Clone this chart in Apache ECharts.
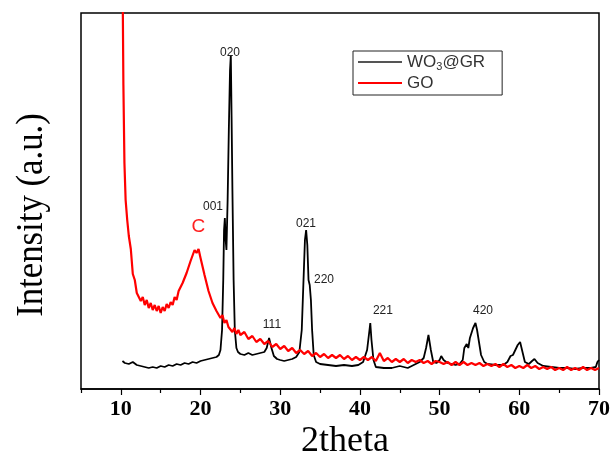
<!DOCTYPE html>
<html><head><meta charset="utf-8">
<script src="https://cdn.jsdelivr.net/npm/echarts@6/dist/echarts.min.js"></script>
<style>html,body{margin:0;padding:0;background:#fff}#c{width:613px;height:459px}</style>
</head><body><div id="c"></div>
<script>
const wo3Theta = [10.2,10.5,11,11.5,12,12.5,13,13.5,14,14.5,15,15.5,16,16.5,17,17.5,18,18.5,19,19.5,20,20.5,21,21.5,22,
22.3,22.5,22.7,22.85,22.95,23.05,23.15,23.25,23.4,23.55,23.7,23.8,23.9,24.0,24.15,24.3,24.5,24.7,
25,25.5,26,26.5,27,27.5,28,
28.3,28.6,28.9,29.2,29.6,
30,30.5,31,31.5,32,
32.4,32.7,32.9,33.1,33.25,33.4,33.55,33.7,33.85,34.0,34.2,34.5,
35,36,37,38,39,39.8,
40.4,40.9,41.2,41.3,41.45,41.7,
42,43,44,45,45.5,46,46.5,47,47.5,48,
48.3,48.6,48.9,49.2,49.6,
50,50.2,50.5,51,51.5,52,52.5,52.9,
53.1,53.4,53.6,53.8,54.2,54.5,54.7,54.9,55.2,55.6,
56,57,58,58.5,58.9,59.2,59.5,59.8,60.1,60.4,60.7,
61.2,61.6,61.9,62.3,
63,64,65,66,67,68,69,69.6,69.8,70];
const wo3Intensity = [28,26,25,27,24,23,22,21,22,21,23,22,24,23,25,24,26,25,27,26,28,29,30,31,32,
34,39,59,109,159,171,149,139,189,259,319,334,269,199,109,59,41,37,
35,34,36,34,35,36,37,
41,51,41,33,30,
29,28,29,30,32,
37,59,104,149,159,144,109,104,89,59,34,27,
25,24,23,24,23,24,
27,39,59,66,49,29,
22,21,21,23,22,21,23,25,27,31,
41,54,39,27,26,
29,33,29,26,25,24,25,29,
41,45,41,51,61,66,59,49,34,27,
25,24,24,27,33,34,39,44,47,37,27,
25,28,30,26,
23,22,21,21,20,21,21,22,27,29];

const goTheta = [10.2,10.25,10.32,10.45,10.6,10.8,
11,11.25,11.5,11.75,12,12.25,12.5,12.75,13,13.25,13.5,13.75,14,14.25,14.5,14.75,15,15.25,15.5,15.75,
16,16.25,16.5,16.75,17,17.25,17.5,17.75,18,18.25,18.5,18.75,19,19.25,19.5,19.75,20,20.25,20.5,20.75,
21,21.25,21.5,21.75,22,22.25,22.5,22.75,23,23.25,23.5,23.75,24,24.25,24.5,24.75,25,
25.5,26,26.5,27,27.5,28,28.5,29,29.5,30,30.5,31,31.5,32,32.5,33,33.5,34,34.5,35,35.5,36,36.5,37,37.5,
38,38.5,39,39.5,40,40.5,41,41.5,42,42.5,43,43.5,44,44.5,45,45.5,46,46.5,47,47.5,48,48.5,49,49.5,
50,50.5,51,51.5,52,52.5,53,53.5,54,54.5,55,55.5,56,56.5,57,57.5,58,58.5,59,59.5,60,60.5,61,61.5,
62,62.5,63,63.5,64,64.5,65,65.5,66,66.5,67,67.5,68,68.5,69,69.5,70];
const goIntensity = [439,376,304,226,189,169,
153,140,115,109,96,98,88,92,84,89,81,86,79,84,78,83,76,82,78,85,
81,87,84,92,89,98,97,106,106,116,117,128,129,139,136,140,131,129,114,112,
98,98,86,88,78,80,71,74,66,69,62,64,57,61,55,59,54,
57,50,53,47,50,45,48,42,45,40,43,38,41,36,39,35,38,33,36,32,35,31,34,31,34,
30,33,29,32,29,32,29,32,28,36,28,31,27,30,27,30,26,29,27,29,26,28,25,28,
27,25,27,24,27,24,27,24,26,24,26,23,25,23,25,22,25,22,24,21,23,21,24,21,
23,20,22,20,22,19,21,19,22,19,21,19,22,19,21,19,21];

const tickValues = [10,20,30,40,50,60,70];
const minorTickValues = [5,15,25,35,45,55,65];

const peakNames = ['020','001','C','021','220','111','221','420'];
const peakTheta = [23.7,21.56,19.74,33.23,35.49,28.96,42.89,55.44];
const peakLabelY = [336,182,162,165,109,64,78,78];

const chart = echarts.init(document.getElementById('c'), null, {renderer:'canvas'});

const wo3Data = wo3Theta.map((t,i)=>[t, wo3Intensity[i]]);
const goData = goTheta.map((t,i)=>[t, goIntensity[i]]);

const markData = peakNames.map((n,i)=>{
  const item = {name:n, coord:[peakTheta[i], peakLabelY[i]]};
  if (n === 'C') item.label = {color:'#ff2020', fontSize:19};
  return item;
});

chart.setOption({
  animation:false,
  backgroundColor:'#fff',
  grid:{left:81, right:14, top:13, bottom:70, show:true, borderColor:'#000', borderWidth:1.5},
  legend:{
    orient:'vertical', left:353, top:51,
    padding:[1,17,2,5],
    itemWidth:44, itemHeight:2, itemGap:1, icon:'rect',
    borderColor:'#222', borderWidth:1,
    data:[{name:'WO3@GR', itemStyle:{color:'#555'}}, {name:'GO', itemStyle:{color:'#ff0000'}}],
    formatter: n => n === 'WO3@GR' ? 'WO{sub|3}@GR' : n,
    textStyle:{fontFamily:'Liberation Sans', fontSize:17, color:'#333', lineHeight:20,
      rich:{sub:{fontSize:11, verticalAlign:'bottom', lineHeight:20, padding:[6,0,0,0], fontFamily:'Liberation Sans', color:'#333'}}}
  },
  xAxis:[{
    type:'value', min:5, max:70, interval:5, position:'bottom',
    axisLine:{show:true, onZero:false, lineStyle:{color:'#000', width:1.5}},
    axisTick:{show:true, customValues:tickValues, length:6, lineStyle:{color:'#000', width:1.2}},
    axisLabel:{show:true, customValues:tickValues, margin:9, fontFamily:'Liberation Serif', fontWeight:'bold', fontSize:22, color:'#000'},
    splitLine:{show:false}
  },{
    type:'value', min:5, max:70, interval:5, position:'bottom',
    axisLine:{show:false},
    axisTick:{show:true, customValues:minorTickValues, length:4, lineStyle:{color:'#000', width:1.2}},
    axisLabel:{show:false},
    splitLine:{show:false}
  }],
  yAxis:{
    type:'value', min:0, max:376,
    axisLine:{show:false}, axisTick:{show:false}, axisLabel:{show:false}, splitLine:{show:false}
  },
  graphic:[
    {type:'text', x:345, y:442, style:{text:'2theta', font:'36px "Liberation Serif"', fill:'#000', textAlign:'center', textVerticalAlign:'middle'}},
    {type:'text', x:32, y:215, rotation:Math.PI/2, scaleX:0.915, style:{text:'Intensity (a.u.)', font:'38px "Liberation Serif"', fill:'#000', textAlign:'center', textVerticalAlign:'middle'}}
  ],
  series:[
    {name:'WO3@GR', type:'line', data:wo3Data, xAxisIndex:0, symbol:'none', clip:true,
     lineStyle:{color:'#000', width:1.8}, itemStyle:{color:'#000'}, z:2,
     markPoint:{symbol:'circle', symbolSize:0, silent:true,
       label:{show:true, position:'inside', formatter:'{b}', fontFamily:'Liberation Sans', fontSize:12, color:'#222'},
       data:markData}},
    {name:'GO', type:'line', data:goData, xAxisIndex:0, symbol:'none', clip:true,
     lineStyle:{color:'#ff0000', width:2.2}, itemStyle:{color:'#ff0000'}, z:3}
  ]
});
</script></body></html>
